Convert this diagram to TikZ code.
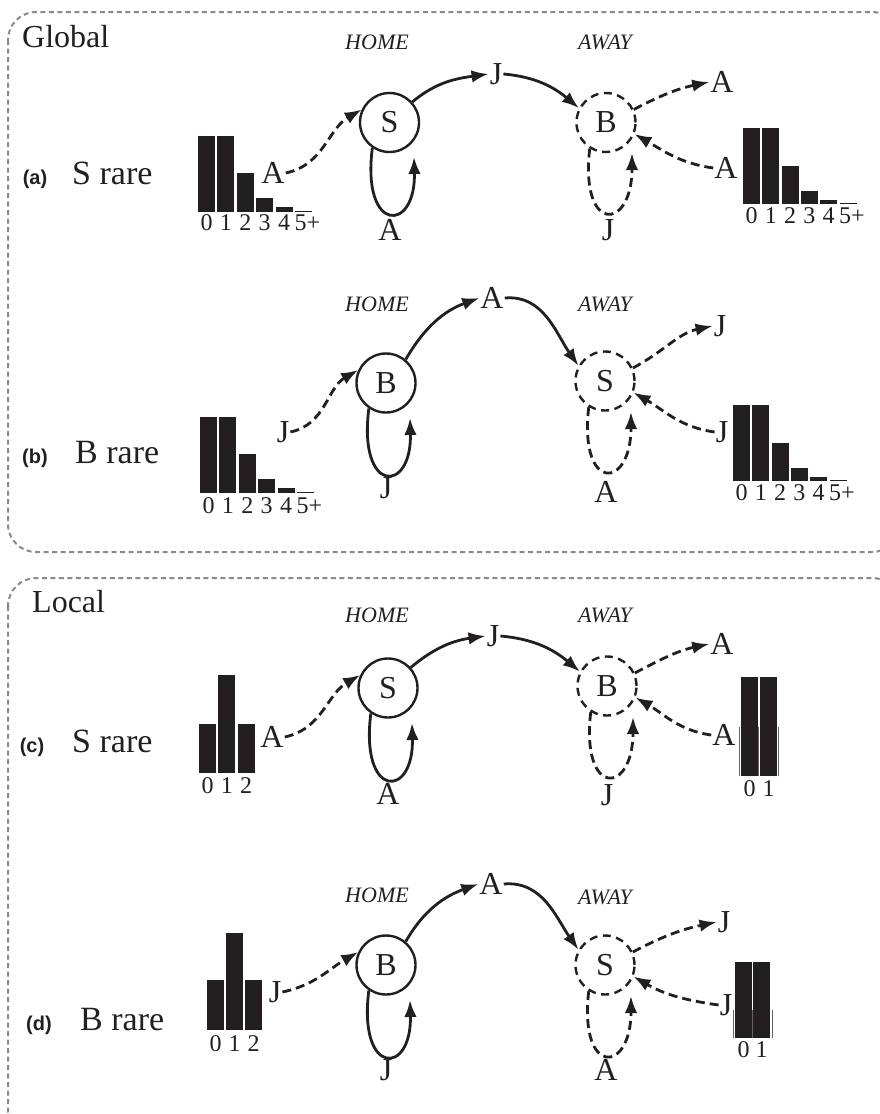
\documentclass[tikz,border=0pt]{standalone}
\usepackage{fontspec}
\setmainfont{Liberation Serif}
\newfontfamily\tagfont{Liberation Sans}
\usetikzlibrary{arrows.meta}
\definecolor{ink}{HTML}{231F20}
\definecolor{frame}{HTML}{8A8A8A}
\tikzset{
  lbl/.style={inner sep=1pt, text=ink, font=\fontsize{32}{32}\selectfont},
  place/.style={inner sep=1pt, text=ink, font=\fontsize{22}{22}\selectfont\itshape},
  num/.style={inner sep=0pt, text=ink, font=\fontsize{24}{24}\selectfont},
  tag/.style={inner sep=0pt, anchor=base, text=ink, font=\fontsize{20}{20}\selectfont\tagfont\bfseries},
  rare/.style={inner sep=0pt, anchor=base west, text=ink, font=\fontsize{34}{34}\selectfont},
  title/.style={inner sep=0pt, anchor=base west, text=ink, font=\fontsize{32}{32}\selectfont},
  homenode/.style={circle, draw=ink, line width=2.4pt, minimum size=59pt, inner sep=0pt, text=ink, font=\fontsize{32}{32}\selectfont},
  awaynode/.style={homenode, dash pattern=on 8pt off 5.5pt},
  conn/.style={draw=ink, line width=2.8pt, -{Latex[length=17pt,width=12.5pt]}},
  dconn/.style={conn, dash pattern=on 9pt off 5pt},
  bar/.style={fill=ink},
  ghost/.style={draw=ink!70, line width=0.8pt},
  panelbox/.style={draw=frame, line width=2pt, dash pattern=on 5pt off 3.5pt, rounded corners=28pt}
}
\begin{document}
\begin{tikzpicture}[x=1pt,y=1pt]
\useasboundingbox (0,0) rectangle (880,-1114);
\clip (0,0) rectangle (880,-1114);

% frames
\draw[panelbox] (8,-12) rectangle (900,-552);
\draw[panelbox] (8,-578) rectangle (900,-1140);
\node[title] (tglobal) at (22,-47) {Global};
\node[title] (tlocal) at (32,-612) {Local};

% ---------------- (a) ----------------
\node[tag] (a-tag) at (35,-184) {(a)};
\node[rare] (a-rare) at (72,-184) {S rare};
\node[place] (a-home) at (377,-42) {HOME};
\node[place] (a-away) at (605,-42) {AWAY};
\node[homenode] (a-h) at (389.5,-122.5) {S};
\node[awaynode] (a-w) at (606,-122.5) {B};
\node[lbl] (a-m) at (496,-74) {J};
\node[lbl] (a-o) at (722,-82) {A};
\node[lbl] (a-i) at (726,-168) {A};
\node[lbl] (a-l) at (273,-173) {A};
\node[lbl] (a-hl) at (390,-230) {A};
\node[lbl] (a-wl) at (608,-230) {J};
\coordinate (a-hend) at (414,-157);
\coordinate (a-wend) at (632,-153);
\draw[conn] (a-h.42) to[out=40,in=188] (a-m.west);
\draw[conn] (a-m.east) to[out=-5,in=140] (a-w.152);
\draw[dconn] (a-w.25) to[out=28,in=192] (a-o.west);
\draw[dconn] (a-i.west) to[out=172,in=-30] (a-w.-22);
\draw[dconn] (a-l.east) to[out=12,in=-150] (a-h.155);
\draw[conn] (a-h.236) .. controls +(-11,-86) and +(2,-76) .. (a-hend);
\draw[dconn] (a-w.238) .. controls +(-10,-86) and +(0,-78) .. (a-wend);
\foreach \h [count=\i from 0] in {76,76,39,14,5,1.5}
  \fill[bar] ({198+19.4*\i},-212) rectangle ++(17,\h);
\foreach \t/\dx [count=\i from 0] in {0/0,1/0,2/0,3/0,4/0,5+/4}
  \node[num] (a-n\i) at ({206.5+19.4*\i+\dx},-223) {\t};
\foreach \h [count=\i from 0] in {76,76,38,13,4,1.5}
  \fill[bar] ({743+19.3*\i},-204) rectangle ++(17,\h);
\foreach \t/\dx [count=\i from 0] in {0/0,1/0,2/0,3/0,4/0,5+/4}
  \node[num] (a-r\i) at ({751.5+19.3*\i+\dx},-216) {\t};

% ---------------- (b) ----------------
\node[tag] (b-tag) at (35,-463) {(b)};
\node[rare] (b-rare) at (75,-463) {B rare};
\node[place] (b-home) at (377,-304) {HOME};
\node[place] (b-away) at (605,-304) {AWAY};
\node[homenode] (b-h) at (386,-383) {B};
\node[awaynode] (b-w) at (605,-381) {S};
\node[lbl] (b-m) at (492,-298) {A};
\node[lbl] (b-o) at (720,-326) {J};
\node[lbl] (b-i) at (722,-432) {J};
\node[lbl] (b-l) at (283,-432) {J};
\node[lbl] (b-hl) at (386,-488) {J};
\node[lbl] (b-wl) at (606,-492) {A};
\coordinate (b-hend) at (410,-418);
\coordinate (b-wend) at (631,-412);
\draw[conn] (b-h.50) to[out=60,in=200] (b-m.west);
\draw[conn] (b-m.east) to[out=5,in=125] (b-w.150);
\draw[dconn] (b-w.25) to[out=28,in=192] (b-o.west);
\draw[dconn] (b-i.west) to[out=172,in=-30] (b-w.-22);
\draw[dconn] (b-l.east) to[out=12,in=-150] (b-h.155);
\draw[conn] (b-h.236) .. controls +(-11,-86) and +(2,-76) .. (b-hend);
\draw[dconn] (b-w.238) .. controls +(-10,-86) and +(0,-78) .. (b-wend);
\foreach \h [count=\i from 0] in {76,76,39,14,5,1.5}
  \fill[bar] ({200+19.4*\i},-493) rectangle ++(17,\h);
\foreach \t/\dx [count=\i from 0] in {0/0,1/0,2/0,3/0,4/0,5+/4}
  \node[num] (b-n\i) at ({208.5+19.4*\i+\dx},-506) {\t};
\foreach \h [count=\i from 0] in {76,76,38,13,4,1.5}
  \fill[bar] ({733+19.3*\i},-481) rectangle ++(17,\h);
\foreach \t/\dx [count=\i from 0] in {0/0,1/0,2/0,3/0,4/0,5+/4}
  \node[num] (b-r\i) at ({741.5+19.3*\i+\dx},-493) {\t};

% ---------------- (c) ----------------
\node[tag] (c-tag) at (32,-752) {(c)};
\node[rare] (c-rare) at (72,-752) {S rare};
\node[place] (c-home) at (377,-615) {HOME};
\node[place] (c-away) at (605,-615) {AWAY};
\node[homenode] (c-h) at (388,-688) {S};
\node[awaynode] (c-w) at (607,-686) {B};
\node[lbl] (c-m) at (493,-636) {J};
\node[lbl] (c-o) at (722,-644) {A};
\node[lbl] (c-i) at (724,-735) {A};
\node[lbl] (c-l) at (272,-737) {A};
\node[lbl] (c-hl) at (388,-794) {A};
\node[lbl] (c-wl) at (607,-795) {J};
\coordinate (c-hend) at (412,-723);
\coordinate (c-wend) at (633,-717);
\draw[conn] (c-h.42) to[out=40,in=188] (c-m.west);
\draw[conn] (c-m.east) to[out=-5,in=140] (c-w.152);
\draw[dconn] (c-w.25) to[out=28,in=192] (c-o.west);
\draw[dconn] (c-i.west) to[out=172,in=-30] (c-w.-22);
\draw[dconn] (c-l.east) to[out=12,in=-150] (c-h.155);
\draw[conn] (c-h.236) .. controls +(-11,-86) and +(2,-76) .. (c-hend);
\draw[dconn] (c-w.238) .. controls +(-10,-86) and +(0,-78) .. (c-wend);
\foreach \h [count=\i from 0] in {49,98,49}
  \fill[bar] ({199+19.3*\i},-773) rectangle ++(17,\h);
\foreach \t [count=\i from 0] in {0,1,2}
  \node[num] (c-n\i) at ({207.5+19.3*\i},-786) {\t};
\foreach \h [count=\i from 0] in {99,99}
  \fill[bar] ({741+19*\i},-776) rectangle ++(17,\h);
\foreach \x in {739,758.5,778}
  \draw[ghost] (\x,-776) -- (\x,-727);
\foreach \t [count=\i from 0] in {0,1}
  \node[num] (c-r\i) at ({749.5+19*\i},-789) {\t};

% ---------------- (d) ----------------
\node[tag] (d-tag) at (39,-1030) {(d)};
\node[rare] (d-rare) at (80,-1030) {B rare};
\node[place] (d-home) at (377,-895) {HOME};
\node[place] (d-away) at (605,-897) {AWAY};
\node[homenode] (d-h) at (386,-965) {B};
\node[awaynode] (d-w) at (605,-965) {S};
\node[lbl] (d-m) at (491,-884) {A};
\node[lbl] (d-o) at (724,-922) {J};
\node[lbl] (d-i) at (726,-1005) {J};
\node[lbl] (d-l) at (275,-992) {J};
\node[lbl] (d-hl) at (386,-1070) {J};
\node[lbl] (d-wl) at (606,-1070) {A};
\coordinate (d-hend) at (410,-1000);
\coordinate (d-wend) at (631,-996);
\draw[conn] (d-h.50) to[out=60,in=200] (d-m.west);
\draw[conn] (d-m.east) to[out=5,in=125] (d-w.150);
\draw[dconn] (d-w.25) to[out=28,in=192] (d-o.west);
\draw[dconn] (d-i.west) to[out=172,in=-30] (d-w.-22);
\draw[dconn] (d-l.east) to[out=12,in=-150] (d-h.155);
\draw[conn] (d-h.236) .. controls +(-11,-86) and +(2,-76) .. (d-hend);
\draw[dconn] (d-w.238) .. controls +(-10,-86) and +(0,-78) .. (d-wend);
\foreach \h [count=\i from 0] in {50,97,50}
  \fill[bar] ({207+19*\i},-1030) rectangle ++(17,\h);
\foreach \t [count=\i from 0] in {0,1,2}
  \node[num] (d-n\i) at ({215.5+19*\i},-1044) {\t};
\foreach \h [count=\i from 0] in {76,76}
  \fill[bar] ({735+18*\i},-1038) rectangle ++(17,\h);
\foreach \x in {733,752.5,772}
  \draw[ghost] (\x,-1038) -- (\x,-1010);
\foreach \t [count=\i from 0] in {0,1}
  \node[num] (d-r\i) at ({743.5+18*\i},-1050) {\t};
\end{tikzpicture}
\end{document}
